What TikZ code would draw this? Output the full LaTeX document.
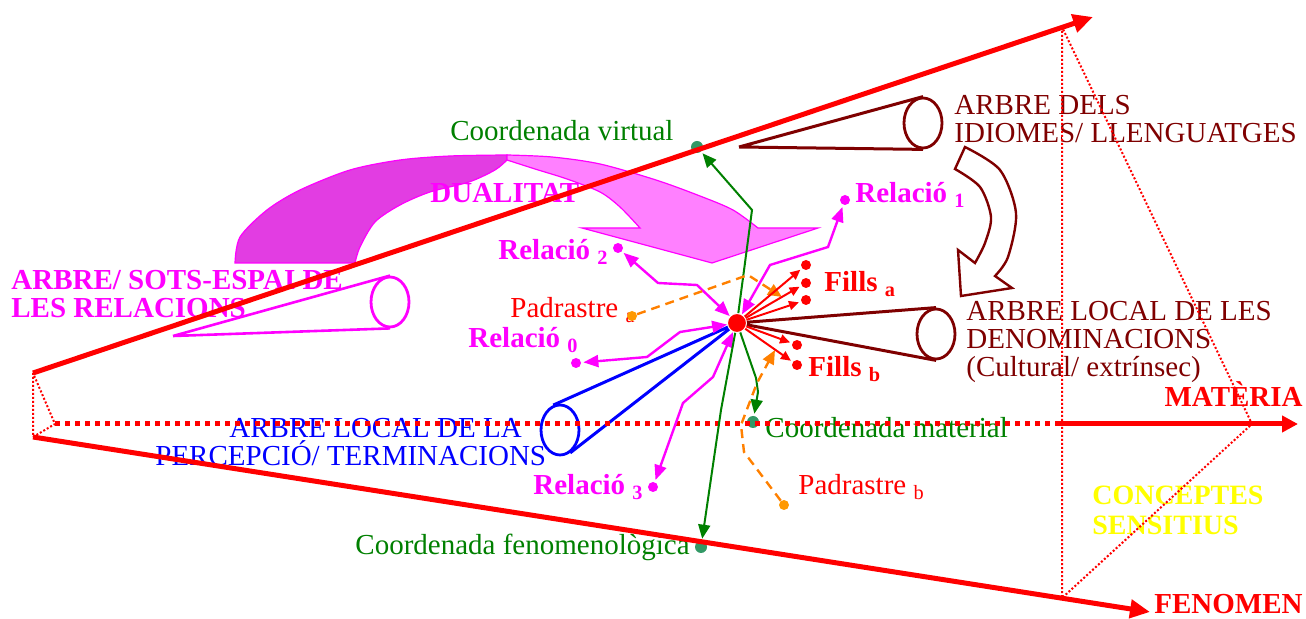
\documentclass[tikz,border=0pt]{standalone}
\usepackage{fontspec}
\setmainfont{Liberation Serif}
\usetikzlibrary{arrows.meta,shapes.geometric}

\definecolor{mag}{HTML}{FF00FF}
\definecolor{magdark}{HTML}{E23DE2}
\definecolor{maglight}{HTML}{FF80FF}
\definecolor{maroon}{HTML}{7F0000}
\definecolor{grn}{HTML}{008000}
\definecolor{grndot}{HTML}{339966}
\definecolor{orng}{HTML}{FF8000}
\definecolor{orngdot}{HTML}{FF9900}
\definecolor{ylw}{HTML}{FFFF00}

\begin{document}
\begin{tikzpicture}[
    x=0.5pt, y=-0.5pt,
    txt/.style={inner sep=0pt, font=\fontsize{14.5}{14}\selectfont, align=left},
    btxt/.style={txt, font=\fontsize{14.5}{14}\selectfont\bfseries},
    reldot/.style={circle, fill=mag, inner sep=0pt, minimum size=5pt},
    filldot/.style={circle, fill=red, inner sep=0pt, minimum size=5pt},
    coorddot/.style={circle, fill=grndot, inner sep=0pt, minimum size=6pt},
    padot/.style={circle, fill=orngdot, inner sep=0pt, minimum size=5pt},
    ctrdot/.style={circle, fill=red, draw=white, line width=0.5pt, inner sep=0pt, minimum size=9.5pt},
    axis/.style={red, line width=2.5pt},
    guide/.style={red, line width=1pt, dash pattern=on 1pt off 1pt},
    cone/.style={ellipse, draw, line width=1.4pt, inner sep=0pt, minimum width=19pt, minimum height=25pt},
    relarrow/.style={mag, line width=1.2pt, shorten >=1pt, {Triangle[length=7.5pt,width=6pt]}-{Triangle[length=7.5pt,width=6pt]}},
    coordarrow/.style={grn, line width=1pt, shorten >=1pt, -{Triangle[length=7pt,width=6pt]}},
    fillarrow/.style={red, line width=1pt, shorten >=1pt, -{Triangle[length=5pt,width=4.5pt]}},
    padarrow/.style={orng, line width=1.2pt, dash pattern=on 4.5pt off 3pt, -{Triangle[length=7pt,width=6pt]}}
]
\useasboundingbox (0,0) rectangle (1306,619);

% Dualitat band
\filldraw[fill=magdark, draw=mag, line width=0.6pt]
  plot[smooth] coordinates {(235,263) (240,237) (267,210) (300,190) (350,170) (400,160) (450,156) (507,155)}
  -- plot[smooth] coordinates {(507,160) (495,170) (469,182) (430,192) (400,205) (375,222) (360,247) (355,263)}
  -- cycle;
\filldraw[fill=maglight, draw=mag, line width=0.6pt]
  plot[smooth] coordinates {(507,155) (552,157) (600,164) (656,180) (700,196) (733,210) (758,228)}
  -- (818,228) -- (712,263) -- (582,228) -- (640,228)
  -- plot[smooth] coordinates {(640,228) (620,207) (600,192) (567,179) (535,169) (507,160)}
  -- cycle;
\node[btxt, mag, anchor=base west] (dual) at (430,203) {DUALITAT};

% Curved arrow between the two trees
\draw[maroon, line width=1.2pt]
  plot[smooth] coordinates {(965,147) (1000,170) (1016,213) (1008,257) (995,276)}
  -- (1012,288) -- (961,296) -- (958,250) -- (975,263)
  -- plot[smooth] coordinates {(975,263) (985,243) (991,217) (980,187) (955,169)}
  -- cycle;

% Labels (base = last line)
\node[btxt, red, anchor=base east] (materia) at (1303,407) {MATÈRIA};
\node[btxt, red, anchor=base east] (fenomen) at (1303,613) {FENOMEN};
\node[btxt, ylw, anchor=base west, font=\fontsize{14}{15}\selectfont\bfseries] (sens) at (1092,535) {CONCEPTES\\SENSITIUS};
\node[txt, maroon, anchor=base west] (idiomes) at (954,143) {ARBRE DELS\\IDIOMES/ LLENGUATGES};
\node[txt, maroon, anchor=base west] (denom) at (966,377) {ARBRE LOCAL DE LES\\DENOMINACIONS\\(Cultural/ extrínsec)};
\node[btxt, mag, anchor=base west] (relsp) at (11,318) {ARBRE/ SOTS-ESPAI DE\\LES RELACIONS};
\node[txt, blue, anchor=base west] (percl) at (155,466) {\hspace*{37pt}ARBRE LOCAL DE LA\\PERCEPCIÓ/ TERMINACIONS};

\node[txt, grn, anchor=base west] (lvirt) at (450,141) {Coordenada virtual};
\node[txt, grn, anchor=base west] (lmat) at (765,438) {Coordenada material};
\node[txt, grn, anchor=base east] (lfen) at (690,554) {Coordenada fenomenològica};

\node[btxt, mag, anchor=base west] (lr1) at (855,203) {Relació \textsubscript{1}};
\node[btxt, mag, anchor=base west] (lr2) at (498,260) {Relació \textsubscript{2}};
\node[btxt, mag, anchor=base west] (lr0) at (468,348) {Relació \textsubscript{0}};
\node[btxt, mag, anchor=base west] (lr3) at (533,495) {Relació \textsubscript{3}};
\node[txt, red, anchor=base west] (lpa) at (510,318) {Padrastre \textsubscript{a}};
\node[txt, red, anchor=base west] (lpb) at (798,495) {Padrastre \textsubscript{b}};
\node[btxt, red, anchor=base west] (lfa) at (824,292) {Fills \textsubscript{a}};
\node[btxt, red, anchor=base west] (lfb) at (808,377) {Fills \textsubscript{b}};

% Centre and dots
\node[ctrdot] (ctr) at (737,323) {};
\node[reldot] (r1) at (845,200) {};
\node[reldot] (r2) at (618,248) {};
\node[reldot] (r0) at (576,363) {};
\node[reldot] (r3) at (653,487) {};
\node[filldot] (fa1) at (806,265) {};
\node[filldot] (fa2) at (806,283) {};
\node[filldot] (fa3) at (806,300) {};
\node[filldot] (fb1) at (797,345) {};
\node[filldot] (fb2) at (797,365) {};
\node[padot] (pa) at (632,316) {};
\node[padot] (pb) at (784,505) {};
\node[coorddot] (cvirt) at (697,147) {};
\node[coorddot] (cmat) at (753,422) {};
\node[coorddot] (cfen) at (701,547) {};

% Cones
\node[cone, draw=maroon] (idi) at (923,123) {};
\coordinate (idapex) at (739,147);
\draw[maroon, line width=1.5pt] (idapex) -- (idi.north) (idapex) -- (idi.south);
\node[cone, draw=maroon] (den) at (936,334) {};
\draw[maroon, line width=1.5pt] (ctr) -- (den.north) (ctr) -- (den.south);
\node[cone, draw=mag] (rel) at (390,302) {};
\coordinate (relapex) at (173,336);
\draw[mag, line width=1.3pt] (relapex) -- (rel.north) (relapex) -- (rel.south);
\node[cone, draw=blue] (perc) at (560,430) {};
\draw[blue, line width=1.5pt] (ctr) -- (perc.105) (ctr) -- (perc.-66);

% Axes
\coordinate (o1) at (33,373);
\coordinate (o2) at (33,437);
\coordinate (om) at (55,424);
\coordinate (vtip) at (1093,17);
\coordinate (ftip) at (1150,612);
\coordinate (mbreak) at (1060,424);
\coordinate (mtip) at (1298,424);
\coordinate (rtop) at (1062,27);
\coordinate (rbot) at (1062,598);
\coordinate (rmat) at (1252,424);
\draw[guide] (o1) -- (o2) -- (om) -- cycle;
\draw[guide] (rtop) -- (rbot) -- (rmat) -- cycle;
\draw[axis, -{Triangle[length=10pt,width=9pt]}] (o1) -- (vtip);
\draw[axis, -{Triangle[length=10pt,width=9pt]}] (o2) -- (ftip);
\draw[red, line width=2.5pt, dash pattern=on 2.5pt off 2.5pt] (om) -- (mbreak);
\draw[axis, -{Triangle[length=8pt,width=8pt]}] (mbreak) -- (mtip);

% Relations
\draw[relarrow] (ctr) -- (770,265) -- (828,247) -- (r1);
\draw[relarrow] (ctr) -- (697,285) -- (658,283) -- (r2);
\draw[relarrow] (ctr) -- (680,332) -- (647,357) -- (r0);
\draw[relarrow] (ctr) -- (713,377) -- (683,403) -- (r3);

% Coordinates
\draw[coordarrow] (ctr) -- (752,210) -- (cvirt);
\draw[coordarrow] (ctr) -- (721,410) -- (cfen);
\draw[coordarrow] (ctr) -- (756,378) -- (758,392) -- (cmat);

% Step-parents
\coordinate (pa-end) at (782,297);
\coordinate (pb-end) at (775,350);
\draw[padarrow] (pa) -- (748,275) -- (pa-end);
\draw[padarrow] (pb) -- (744,452) -- (741,425) -- (757,383) -- (pb-end);

% Children
\foreach \d in {fa1,fa2,fa3,fb1,fb2}
  \draw[fillarrow] (ctr) -- (\d);

\end{tikzpicture}
\end{document}
